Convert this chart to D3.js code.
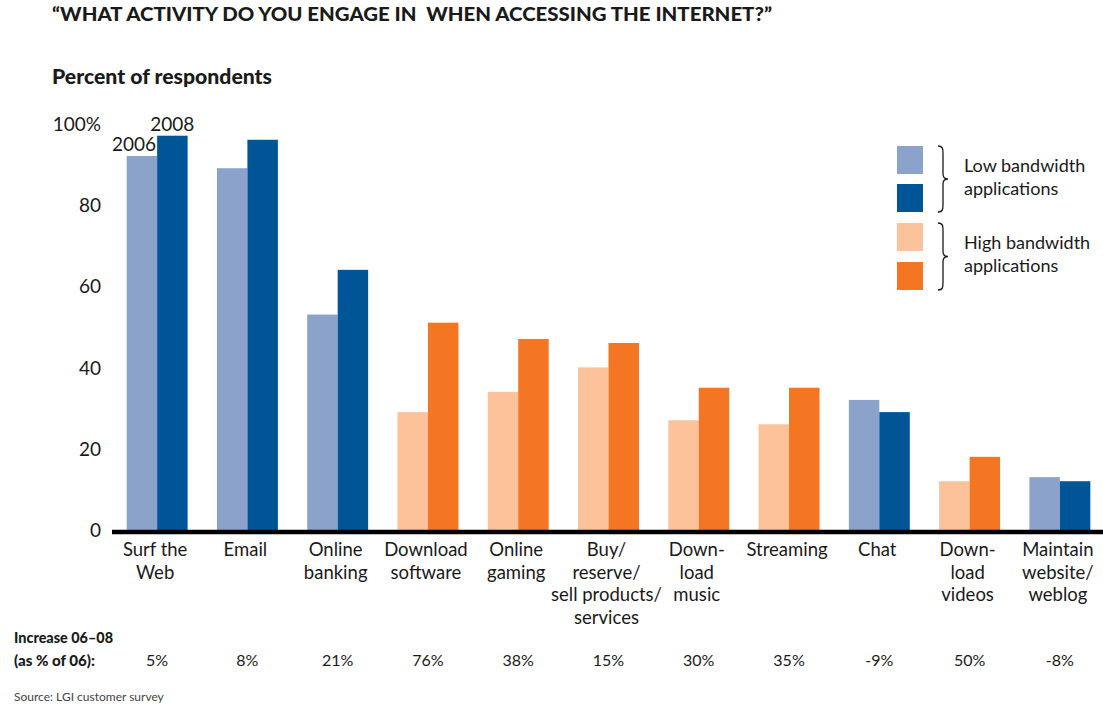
<!DOCTYPE html>
<html>
<head>
<meta charset="utf-8">
<script src="https://cdn.jsdelivr.net/npm/d3@7"></script>
<style>
  html, body { margin: 0; padding: 0; background: #fff; }
  svg { display: block; }
  text { font-family: Lato, "DejaVu Sans", sans-serif; fill: #1a1a1a; }
  .bold { font-weight: 700; }
  .heavy { font-weight: 900; white-space: pre; }
</style>
</head>
<body>
<svg id="chart" width="1103" height="710"></svg>
<script>
// Survey answers, percent of respondents
const categories = [
  ["Surf the", "Web"],
  ["Email"],
  ["Online", "banking"],
  ["Download", "software"],
  ["Online", "gaming"],
  ["Buy/", "reserve/", "sell products/", "services"],
  ["Down-", "load", "music"],
  ["Streaming"],
  ["Chat"],
  ["Down-", "load", "videos"],
  ["Maintain", "website/", "weblog"]
];
const bandwidth = ["low", "low", "low", "high", "high", "high", "high", "high", "low", "high", "low"];
const values2006 = [92, 89, 53, 29, 34, 40, 27, 26, 32, 12, 13];
const values2008 = [97, 96, 64, 51, 47, 46, 35, 35, 29, 18, 12];
const increaseLabels = ["5%", "8%", "21%", "76%", "38%", "15%", "30%", "35%", "-9%", "50%", "-8%"];
const yTicks = [0, 20, 40, 60, 80, 100];

const colors = {
  low:  { y2006: "#8ba3cb", y2008: "#005596" },
  high: { y2006: "#fcc39b", y2008: "#f47522" }
};

const svg = d3.select("#chart");

const x = d3.scaleBand()
  .domain(d3.range(categories.length))
  .range([112, 1105])
  .paddingInner(0.325)
  .paddingOuter(0.1625);

const xSub = d3.scaleBand()
  .domain(["y2006", "y2008"])
  .range([0, x.bandwidth()]);

const y = d3.scaleLinear().domain([0, 100]).range([530, 123.5]);

// Titles
svg.append("text").attr("class", "heavy")
  .attr("x", 52).attr("y", 21)
  .style("font-size", "18px")
  .attr("textLength", 720)
  .attr("lengthAdjust", "spacingAndGlyphs")
  .text("\u201CWHAT ACTIVITY DO YOU ENGAGE IN  WHEN ACCESSING THE INTERNET?\u201D");

svg.append("text").attr("class", "heavy")
  .attr("x", 52).attr("y", 84)
  .style("font-size", "20px")
  .attr("textLength", 220)
  .attr("lengthAdjust", "spacingAndGlyphs")
  .text("Percent of respondents");

// Y axis labels (no axis line)
const yAxis = d3.axisLeft(y)
  .tickValues(yTicks)
  .tickSize(0)
  .tickPadding(0)
  .tickFormat(d => d === 100 ? "100%" : d);

const yg = svg.append("g").attr("transform", "translate(101,0)").call(yAxis);
yg.select(".domain").remove();
yg.selectAll("text")
  .style("font-family", "Lato, 'DejaVu Sans', sans-serif")
  .style("font-size", "19px")
  .attr("fill", "#1a1a1a")
  .attr("dy", "0.35em");

// Bars
const groups = svg.append("g").selectAll("g")
  .data(categories.map((c, i) => i))
  .join("g")
  .attr("transform", i => `translate(${x(i)},0)`);

groups.append("rect")
  .attr("x", xSub("y2006"))
  .attr("width", xSub.bandwidth())
  .attr("y", i => y(values2006[i]))
  .attr("height", i => y(0) - y(values2006[i]))
  .attr("fill", i => colors[bandwidth[i]].y2006);

groups.append("rect")
  .attr("x", xSub("y2008"))
  .attr("width", xSub.bandwidth())
  .attr("y", i => y(values2008[i]))
  .attr("height", i => y(0) - y(values2008[i]))
  .attr("fill", i => colors[bandwidth[i]].y2008);

// Year labels above first pair
svg.append("text")
  .attr("x", x(0) + xSub("y2006") + xSub.bandwidth() - 1)
  .attr("y", y(values2006[0]) - 5)
  .attr("text-anchor", "end")
  .style("font-size", "19px")
  .text("2006");
svg.append("text")
  .attr("x", x(0) + xSub("y2008") + xSub.bandwidth() / 2)
  .attr("y", y(values2008[0]) - 5)
  .attr("text-anchor", "middle")
  .style("font-size", "19px")
  .text("2008");

// Baseline
svg.append("line")
  .attr("x1", 112).attr("x2", 1103)
  .attr("y1", y(0) + 2).attr("y2", y(0) + 2)
  .attr("stroke", "#000").attr("stroke-width", 4.5);

// Category labels
const catText = svg.append("g").selectAll("text")
  .data(categories)
  .join("text")
  .attr("x", (d, i) => x(i) + x.bandwidth() / 2 - 2)
  .attr("y", 556)
  .attr("text-anchor", "middle")
  .style("font-size", "18.5px");
catText.selectAll("tspan")
  .data(d => d)
  .join("tspan")
  .attr("x", function () { return d3.select(this.parentNode).attr("x"); })
  .attr("dy", (d, j) => j === 0 ? 0 : 22.5)
  .text(d => d);

// Increase row
svg.append("text").attr("class", "heavy")
  .attr("x", 14).attr("y", 643)
  .style("font-size", "15px")
  .attr("textLength", 99)
  .attr("lengthAdjust", "spacingAndGlyphs")
  .text("Increase 06\u201308");
svg.append("text").attr("class", "heavy")
  .attr("x", 14).attr("y", 666)
  .style("font-size", "15px")
  .attr("textLength", 81)
  .attr("lengthAdjust", "spacingAndGlyphs")
  .text("(as % of 06):");

svg.append("g").selectAll("text")
  .data(increaseLabels)
  .join("text")
  .attr("x", (d, i) => x(i) + x.bandwidth() / 2)
  .attr("y", 666)
  .attr("text-anchor", "middle")
  .style("font-size", "16px")
  .text(d => d);

// Source
svg.append("text")
  .attr("x", 14).attr("y", 701)
  .style("font-size", "12px")
  .style("fill", "#444")
  .text("Source: LGI customer survey");

// Legend
const legendItems = [
  { color: colors.low.y2006,  y: 146 },
  { color: colors.low.y2008,  y: 184 },
  { color: colors.high.y2006, y: 223 },
  { color: colors.high.y2008, y: 262 }
];
svg.append("g").selectAll("rect")
  .data(legendItems)
  .join("rect")
  .attr("x", 897).attr("y", d => d.y)
  .attr("width", 26).attr("height", 28)
  .attr("fill", d => d.color);

function brace(y0, y1) {
  const xl = 938, xm = 943, xt = 948, ym = (y0 + y1) / 2;
  return `M${xl},${y0} C${xm},${y0} ${xm},${y0 + 3} ${xm},${y0 + 8}` +
    ` L${xm},${ym - 5} C${xm},${ym - 1} ${xm + 2},${ym} ${xt},${ym}` +
    ` C${xm + 2},${ym} ${xm},${ym + 1} ${xm},${ym + 5}` +
    ` L${xm},${y1 - 8} C${xm},${y1 - 3} ${xm},${y1} ${xl},${y1}`;
}
const legendGroups = [
  { lines: ["Low bandwidth", "applications"], y0: 146, y1: 212, ty: 172 },
  { lines: ["High bandwidth", "applications"], y0: 223, y1: 290, ty: 249 }
];
svg.append("g").selectAll("path")
  .data(legendGroups)
  .join("path")
  .attr("d", d => brace(d.y0, d.y1))
  .attr("fill", "none").attr("stroke", "#1a1a1a").attr("stroke-width", 1.3);

const lt = svg.append("g").selectAll("text")
  .data(legendGroups)
  .join("text")
  .attr("x", 964).attr("y", d => d.ty)
  .style("font-size", "18px");
lt.selectAll("tspan")
  .data(d => d.lines)
  .join("tspan")
  .attr("x", 964)
  .attr("dy", (d, j) => j === 0 ? 0 : 23)
  .text(d => d);
</script>
</body>
</html>
